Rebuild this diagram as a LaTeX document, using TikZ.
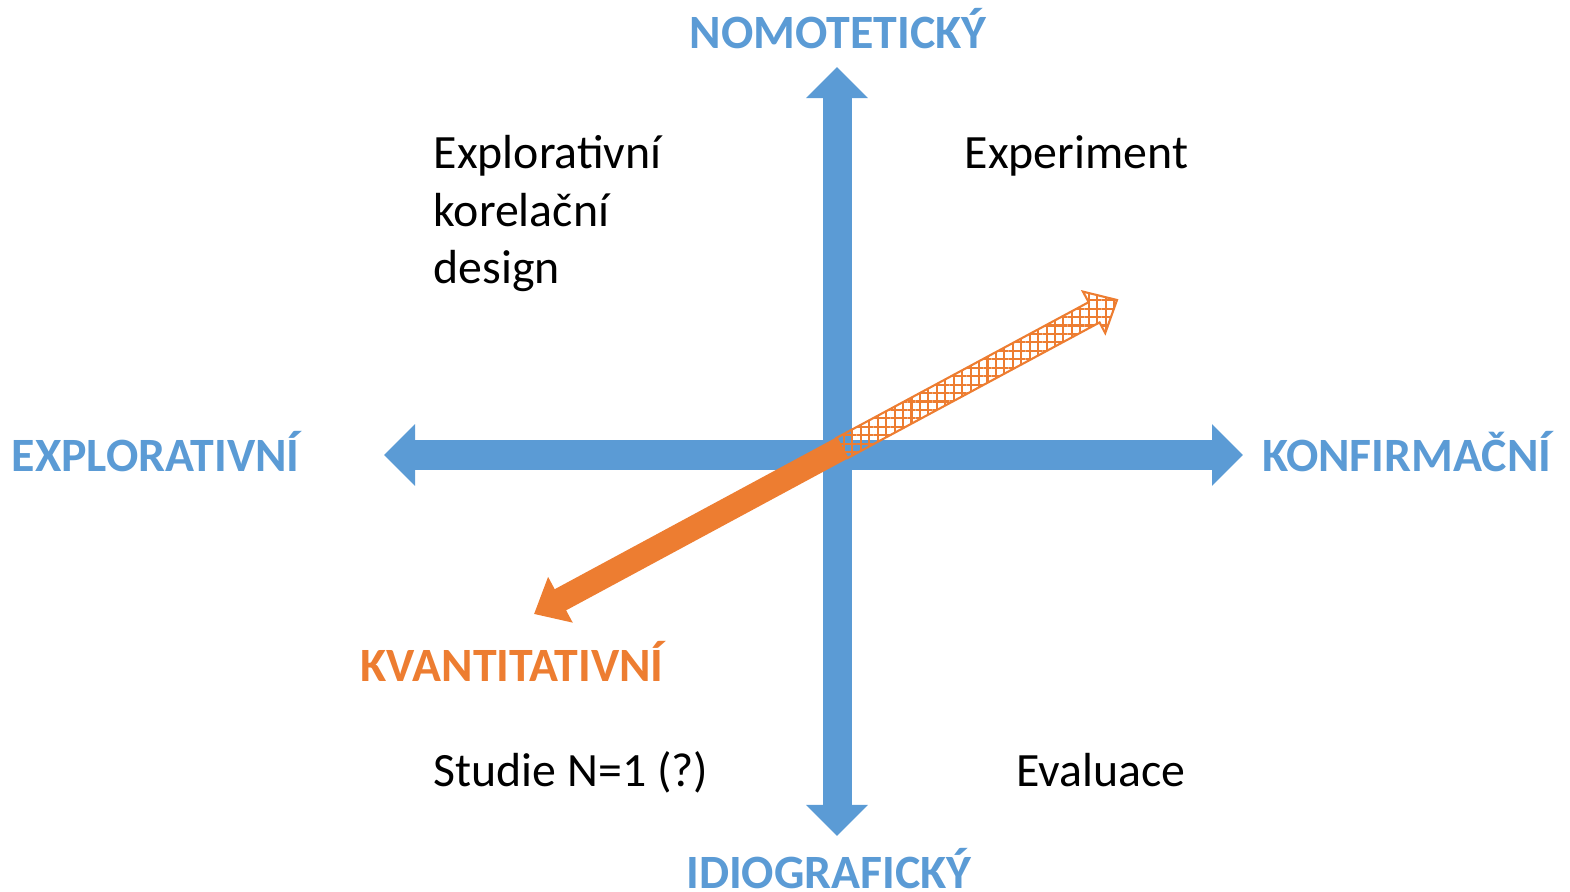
\documentclass[tikz,border=0pt]{standalone}
\usepackage{fontspec}
\setmainfont{Carlito}
\usetikzlibrary{arrows.meta,calc,patterns.meta}
\definecolor{axblue}{HTML}{5B9BD5}
\definecolor{qorange}{HTML}{ED7D31}
\tikzset{
  axis/.style={axblue, line width=0.29cm, {Triangle[length=0.31cm,width=0.60cm]}-{Triangle[length=0.31cm,width=0.60cm]}},
  axlabel/.style={text=axblue, font=\fontsize{13.6}{16}\selectfont\bfseries, inner sep=0pt},
  quad/.style={text=black, font=\fontsize{13.6}{16}\selectfont, inner sep=0pt},
  qarrow/.style={qorange, line width=0.24cm, -{Triangle[length=0.30cm,width=0.50cm]}},
  hatched/.style={draw=qorange, line width=0.6pt, line join=miter, pattern={Hatch[angle=0,distance=2.4pt,line width=0.6pt]}, pattern color=qorange}
}
\begin{document}
\begin{tikzpicture}[x=0.01cm,y=-0.01cm]
\useasboundingbox (0,0) rectangle (1570,891);
% axes
\coordinate (top) at (837,67);
\coordinate (bot) at (837,836);
\coordinate (lft) at (384,455);
\coordinate (rgt) at (1243,455);
\draw[axis] (bot) -- (top);
\draw[axis] (lft) -- (rgt);
% quantitative arrow
\coordinate (J) at (842,448);
\coordinate (tipA) at (534,614);
\coordinate (tipB) at (1117,300);
\draw[qarrow] (J) -- (tipA);
\coordinate (H) at ($(tipB)!0.26cm!(J)$);
\filldraw[hatched]
  ($(J)!0.115cm!90:(tipB)$) -- ($(H)!0.115cm!-90:(J)$) -- ($(H)!0.235cm!-90:(J)$) -- (tipB)
  -- ($(H)!0.235cm!90:(J)$) -- ($(H)!0.115cm!90:(J)$) -- ($(J)!0.115cm!-90:(tipB)$) -- cycle;
% axis labels
\node[axlabel, anchor=base] (nom) at (838,49) {NOMOTETICKÝ};
\node[axlabel, anchor=base] (idio) at (829,888) {IDIOGRAFICKÝ};
\node[axlabel, anchor=base west] (expl) at (11,471) {EXPLORATIVNÍ};
\node[axlabel, anchor=base east] (konf) at (1552,471) {KONFIRMAČNÍ};
\node[axlabel, text=qorange, anchor=base west] (kvant) at (360,681) {KVANTITATIVNÍ};
% quadrant labels
\node[quad, anchor=base west] (q1) at (433,169) {Explorativní};
\node[quad, anchor=base west] (q1b) at (433,226) {korelační};
\node[quad, anchor=base west] (q1c) at (433,284) {design};
\node[quad, anchor=base west] (q2) at (964,169) {Experiment};
\node[quad, anchor=base west] (q3) at (433,786) {Studie N=1 (?)};
\node[quad, anchor=base east] (q4) at (1186,786) {Evaluace};
\end{tikzpicture}
\end{document}
